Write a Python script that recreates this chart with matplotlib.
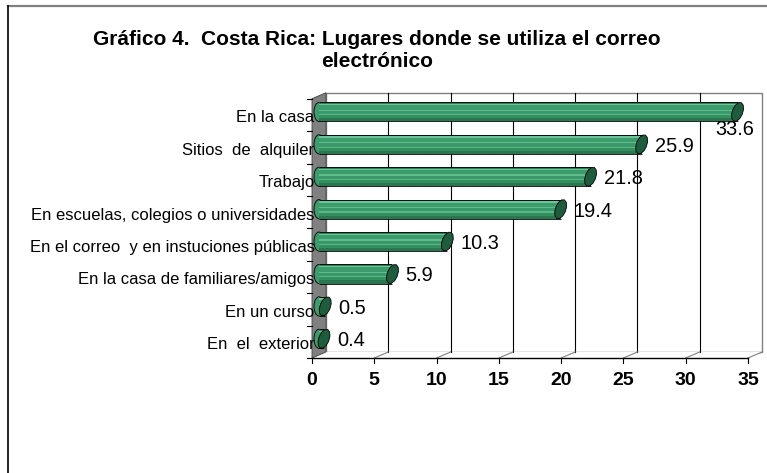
import numpy as np
import matplotlib.pyplot as plt
from matplotlib.patches import Polygon, Ellipse
from matplotlib.lines import Line2D
from matplotlib.transforms import ScaledTranslation

plt.rcParams['font.family'] = ['Liberation Sans', 'DejaVu Sans']

TITULO = "Gráfico 4.  Costa Rica: Lugares donde se utiliza el correo\nelectrónico"
LUGARES = ["En la casa", "Sitios  de  alquiler", "Trabajo",
           "En escuelas, colegios o universidades",
           "En el correo  y en instuciones públicas",
           "En la casa de familiares/amigos", "En un curso", "En  el  exterior"]
PORCENTAJES = [33.6, 25.9, 21.8, 19.4, 10.3, 5.9, 0.5, 0.4]
TICKS_X = [0, 5, 10, 15, 20, 25, 30, 35]

W, H = 767, 473
fig = plt.figure(figsize=(W / 100, H / 100), dpi=100)

# plano medio de la caja 3D, en pixeles
x_izq, x_der = 319, 755
y_sup, y_inf = 95.7, 355
ax = fig.add_axes([x_izq / W, 1 - y_inf / H, (x_der - x_izq) / W, (y_inf - y_sup) / H])
xmax = TICKS_X[-1]
n = len(LUGARES)
ax.set_xlim(0, xmax)
ax.set_ylim(n - 0.5, -0.5)
for s in ax.spines.values():
    s.set_visible(False)
ax.patch.set_visible(False)

sx = (x_der - x_izq) / xmax
sy = (y_inf - y_sup) / n
dx = 7 / sx   # media profundidad en unidades de datos
dy = 3 / sy
yt, yb = -0.5, n - 0.5


def atras(x, y):
    return (x + dx, y - dy)


def frente(x, y):
    return (x - dx, y + dy)


# pared del fondo y cuadricula
ax.add_patch(Polygon([atras(0, yt), atras(xmax, yt), atras(xmax, yb), atras(0, yb)],
                     closed=True, fc='white', ec='#808080', lw=1, zorder=0, clip_on=False))
for t in TICKS_X[1:-1]:
    (xa, ya1), (_, ya2) = atras(t, yt), atras(t, yb)
    ax.plot([xa, xa], [ya1, ya2], color='black', lw=0.8, zorder=1, clip_on=False)

# piso
ax.add_patch(Polygon([frente(0, yb), frente(xmax, yb), atras(xmax, yb), atras(0, yb)],
                     closed=True, fc='white', ec='none', zorder=0, clip_on=False))
for t in TICKS_X[1:]:
    (xf, yf), (xa, ya) = frente(t, yb), atras(t, yb)
    ax.plot([xf, xa], [yf, ya], color='#808080', lw=0.8, zorder=1, clip_on=False)

# pared lateral
ax.add_patch(Polygon([frente(0, yt), frente(0, yb), atras(0, yb), atras(0, yt)],
                     closed=True, fc='#808080', ec='#404040', lw=0.6, zorder=1, clip_on=False))

# eje frontal con marcas
(xf0, yf0), (xf1, _) = frente(0, yb), frente(xmax, yb)
ax.plot([xf0, xf1], [yf0, yf0], color='black', lw=1, zorder=2, clip_on=False)
for t in TICKS_X:
    xf, yf = frente(t, yb)
    ax.plot([xf, xf], [yf, yf + 5 / sy], color='black', lw=0.8, clip_on=False)
for b in np.arange(yt, yb + 0.01, 1):
    xf, yf = frente(0, b)
    ax.plot([xf - 5 / sx, xf], [yf, yf], color='black', lw=0.8, clip_on=False)

# cilindros
idx = np.arange(n)
alto = 0.59
franjas = [(0.00, 0.08, '#2b7f55'), (0.08, 0.16, '#6ac59a'), (0.16, 0.38, '#3c9c6c'),
           (0.38, 0.45, '#62bd8c'), (0.45, 0.62, '#3a996a'), (0.62, 0.68, '#5cb686'),
           (0.68, 0.84, '#33905f'), (0.84, 1.00, '#2a7650')]
for i, v in zip(idx, PORCENTAJES):
    ax.add_patch(Ellipse((0, i), width=10 / sx, height=alto, fc='#3c9c6c', ec='black',
                         lw=0.6, zorder=3, clip_on=False))
for f0, f1, c in franjas:
    ax.barh(idx - alto / 2 + alto * (f0 + f1) / 2, PORCENTAJES, left=0,
            height=alto * (f1 - f0), color=c, lw=0, zorder=4)
ax.hlines(idx - alto / 2, 0, PORCENTAJES, color='black', lw=0.6, zorder=5)
ax.hlines(idx + alto / 2, 0, PORCENTAJES, color='black', lw=0.6, zorder=5)

th = np.linspace(0, 2 * np.pi, 13)[:-1] + np.pi / 12
a_px, b_px, k_px = 5.5, alto * sy / 2, 2.5
for i, v in zip(idx, PORCENTAJES):
    pts = np.column_stack([v + (a_px * np.cos(th) + k_px * np.sin(th)) / sx,
                           i - b_px * np.sin(th) / sy])
    ax.add_patch(Polygon(pts, closed=True, fc='#1e5c3e', ec='black', lw=0.6,
                         zorder=6, clip_on=False))

# etiquetas de valores
for i, v in zip(idx, PORCENTAJES):
    if v > 0.9 * xmax:
        ax.annotate(f"{v:.1f}", (v, i), xytext=(17, -16), textcoords='offset pixels',
                    ha='right', va='center_baseline', fontsize=14.4, zorder=7)
    else:
        ax.annotate(f"{v:.1f}", (v, i), xytext=(13, 0), textcoords='offset pixels',
                    ha='left', va='center_baseline', fontsize=14.4, zorder=7)

# ejes
ax.set_xticks(TICKS_X)
ax.set_xticklabels([str(t) for t in TICKS_X], fontsize=14, fontweight='bold')
ax.tick_params(axis='x', length=0, pad=9.9)
ax.set_yticks(idx)
ax.set_yticklabels(LUGARES, fontsize=12)
ax.tick_params(axis='y', length=0, pad=3.2)
ax.xaxis.set_zorder(10)
ax.yaxis.set_zorder(10)
desp_x = ScaledTranslation(-0.07, -0.03, fig.dpi_scale_trans)
for lab in ax.get_xticklabels():
    lab.set_transform(lab.get_transform() + desp_x)
desp_y = ScaledTranslation(0, -0.045, fig.dpi_scale_trans)
for lab in ax.get_yticklabels():
    lab.set_transform(lab.get_transform() + desp_y)

fig.text(377 / W, 1 - 30 / H, TITULO, ha='center', va='top', fontsize=15,
         fontweight='bold', linespacing=1.22)

# marco del area del grafico
fig.add_artist(Line2D([8 / W, 1], [1 - 6.5 / H] * 2, color='#808080', lw=1.6))
fig.add_artist(Line2D([8 / W] * 2, [0, 1 - 6 / H], color='black', lw=1.2))

fig.savefig('out.png', dpi=100)
